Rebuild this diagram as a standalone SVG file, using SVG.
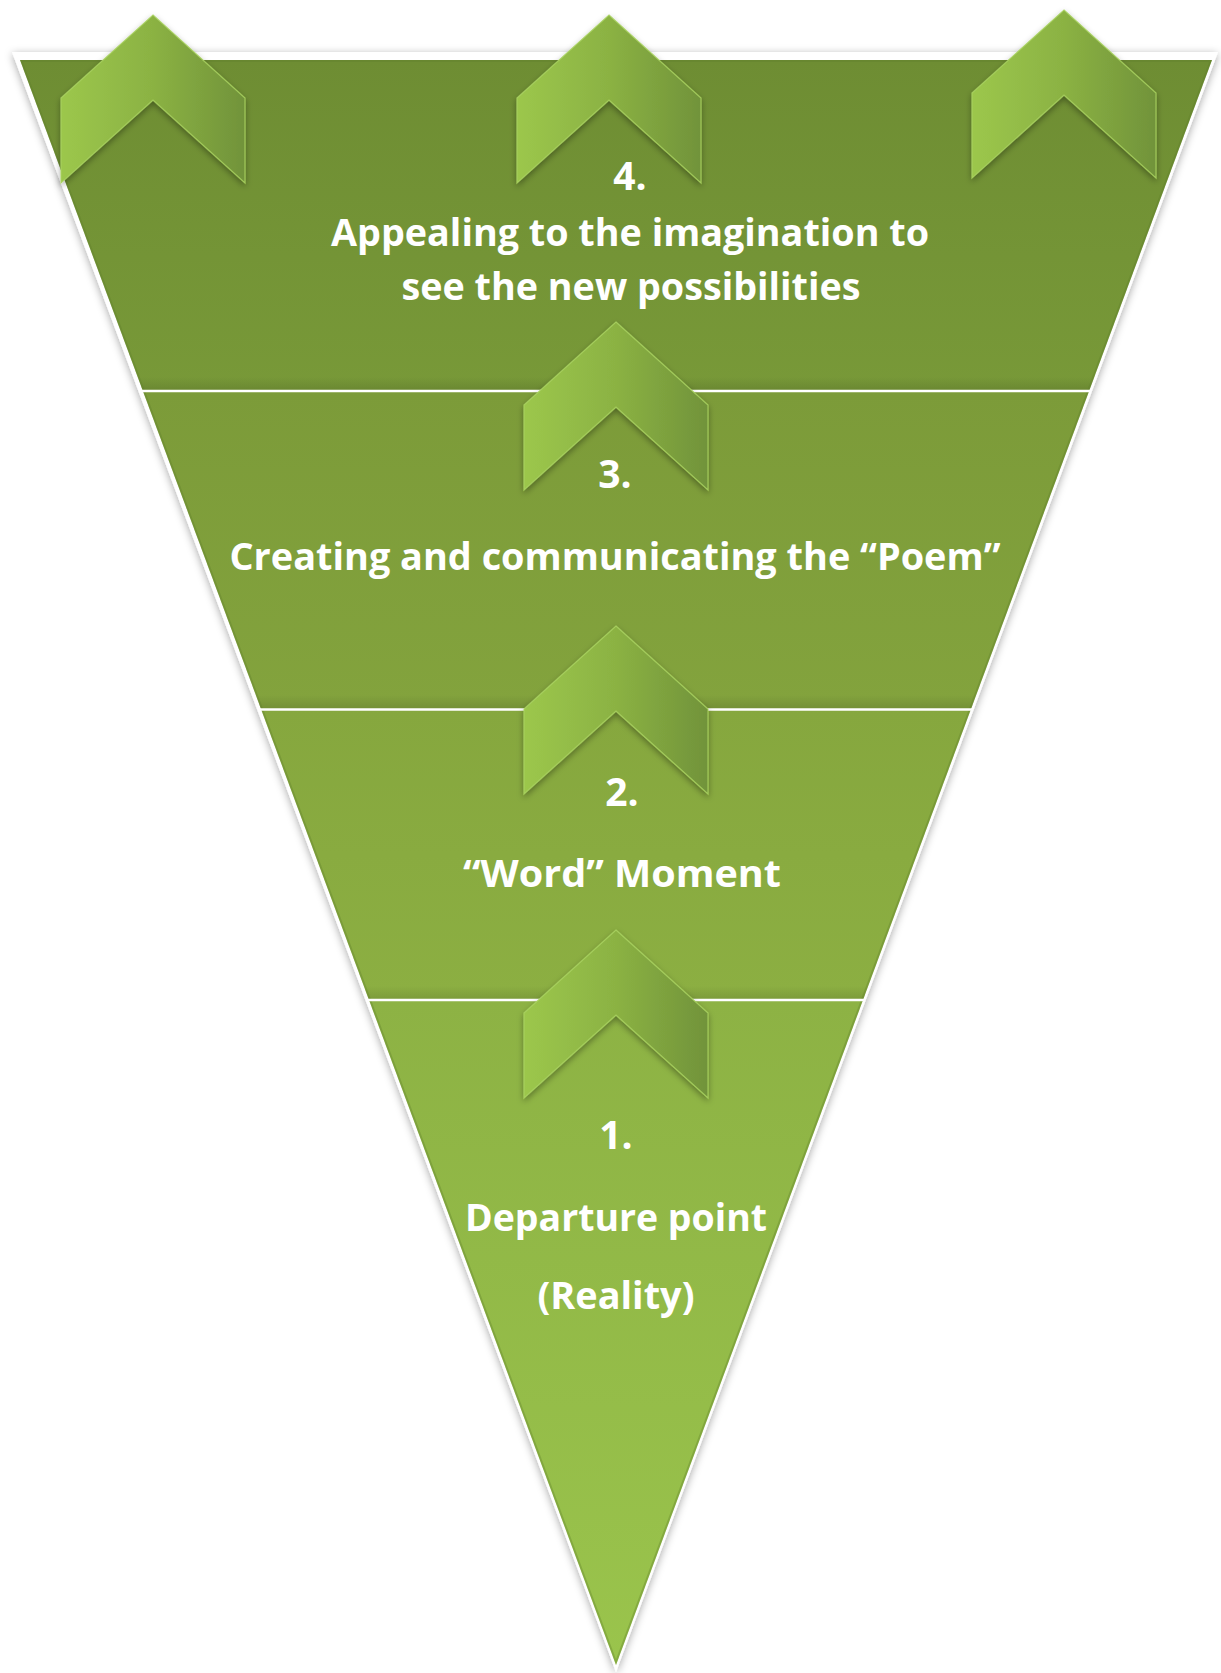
<svg xmlns="http://www.w3.org/2000/svg" width="1221" height="1673" viewBox="0 0 1221 1673">
<style>
.lbl{font-family:"Open Sans","Noto Sans","Liberation Sans",sans-serif;font-weight:700;fill:#ffffff;text-anchor:middle}
.txt{font-size:38px}
.num{font-size:39px}
.div{stroke:#ffffff;stroke-width:2.5;fill:none}
.chev{fill:url(#gChev);stroke:#a9d262;stroke-width:1.2;stroke-opacity:0.85;filter:url(#chShadow)}
</style>
<defs>
<filter id="outerShadow" x="-10%" y="-10%" width="120%" height="120%">
<feDropShadow dx="0" dy="2" stdDeviation="4" flood-color="#000" flood-opacity="0.35"/>
</filter>
<filter id="chShadow" x="-20%" y="-20%" width="140%" height="140%">
<feDropShadow dx="0" dy="3" stdDeviation="3" flood-color="#000" flood-opacity="0.35"/>
</filter>
<linearGradient id="gChev" x1="0" y1="0" x2="1" y2="0">
<stop offset="0" stop-color="#9cc74c"/>
<stop offset="0.5" stop-color="#8bb243"/>
<stop offset="1" stop-color="#71933a"/>
</linearGradient>
<linearGradient id="g4" gradientUnits="userSpaceOnUse" x1="0" y1="60" x2="0" y2="391">
<stop offset="0" stop-color="#6e8d33"/><stop offset="1" stop-color="#789938"/>
</linearGradient>
<linearGradient id="g3" gradientUnits="userSpaceOnUse" x1="0" y1="391" x2="0" y2="709">
<stop offset="0" stop-color="#7c9b39"/><stop offset="1" stop-color="#83a33d"/>
</linearGradient>
<linearGradient id="g2" gradientUnits="userSpaceOnUse" x1="0" y1="709" x2="0" y2="1000">
<stop offset="0" stop-color="#86a73e"/><stop offset="1" stop-color="#8caf42"/>
</linearGradient>
<linearGradient id="g1" gradientUnits="userSpaceOnUse" x1="0" y1="1000" x2="0" y2="1665">
<stop offset="0" stop-color="#8db244"/><stop offset="1" stop-color="#9ac44c"/>
</linearGradient>
<linearGradient id="shade" x1="0" y1="0" x2="0" y2="1">
<stop offset="0" stop-color="#000" stop-opacity="0"/><stop offset="1" stop-color="#000" stop-opacity="0.12"/>
</linearGradient>
<clipPath id="triClip"><polygon points="20,60 1212,60 616,1665"/></clipPath>
<path id="chev" d="M0,0 L92,83 L92,168 L0,85 L-92,168 L-92,83 Z"/>
</defs>

<g id="frame">
<polygon points="12,52 1218,52 616,1672" fill="#ffffff" filter="url(#outerShadow)"/>
</g>

<g id="level-4">
<polygon points="20,60 1212,60 1089.1,391 142.9,391" fill="url(#g4)"/>
</g>
<g id="level-3">
<polygon points="142.9,391 1089.1,391 970.8,709.5 261.2,709.5" fill="url(#g3)"/>
</g>
<g id="level-2">
<polygon points="261.2,709.5 970.8,709.5 863,1000 369,1000" fill="url(#g2)"/>
</g>
<g id="level-1">
<polygon points="369,1000 863,1000 616,1665" fill="url(#g1)"/>
</g>

<g id="shading" clip-path="url(#triClip)">
<rect x="0" y="377" width="1221" height="14" fill="url(#shade)"/>
<rect x="0" y="695" width="1221" height="14" fill="url(#shade)"/>
<rect x="0" y="986" width="1221" height="14" fill="url(#shade)"/>
<polygon points="20,60 1212,60 616,1665" fill="none" stroke="#5f7d2a" stroke-opacity="0.35" stroke-width="4"/>
</g>

<g id="dividers">
<line class="div" x1="141" y1="391" x2="1091" y2="391"/>
<line class="div" x1="259" y1="709.5" x2="973" y2="709.5"/>
<line class="div" x1="367" y1="1000" x2="865" y2="1000"/>
</g>

<g id="connectors">
<use href="#chev" class="chev" x="153" y="15"/>
<use href="#chev" class="chev" x="609" y="15"/>
<use href="#chev" class="chev" x="1064" y="10"/>
<use href="#chev" class="chev" x="616" y="322"/>
<use href="#chev" class="chev" x="616" y="626"/>
<use href="#chev" class="chev" x="616" y="930"/>
</g>

<g id="label-4">
<text class="lbl num" x="630" y="190">4.</text>
<text class="lbl txt" x="630" y="246" textLength="598" lengthAdjust="spacingAndGlyphs">Appealing to the imagination to</text>
<text class="lbl txt" x="631" y="300" textLength="459" lengthAdjust="spacingAndGlyphs">see the new possibilities</text>
</g>
<g id="label-3">
<text class="lbl num" x="615" y="488">3.</text>
<text class="lbl txt" x="615" y="570" textLength="771" lengthAdjust="spacingAndGlyphs">Creating and communicating the “Poem”</text>
</g>
<g id="label-2">
<text class="lbl num" x="622" y="806">2.</text>
<text class="lbl txt" x="622" y="887" textLength="318" lengthAdjust="spacingAndGlyphs">“Word” Moment</text>
</g>
<g id="label-1">
<text class="lbl num" x="616" y="1149">1.</text>
<text class="lbl txt" x="616" y="1231" textLength="302" lengthAdjust="spacingAndGlyphs">Departure point</text>
<text class="lbl txt" x="616" y="1309" textLength="157" lengthAdjust="spacingAndGlyphs">(Reality)</text>
</g>
</svg>
